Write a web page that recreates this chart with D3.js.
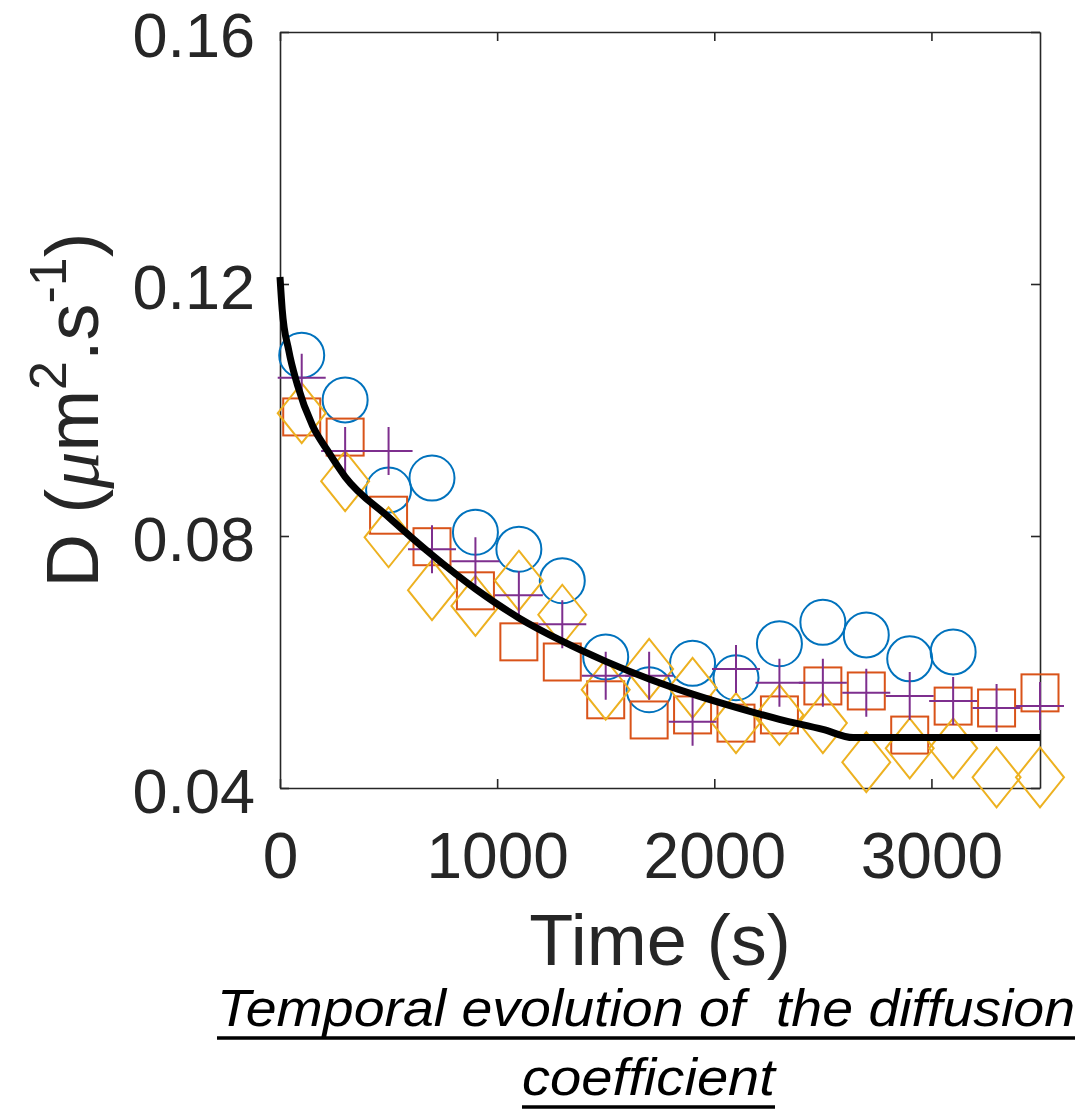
<!DOCTYPE html>
<html>
<head>
<meta charset="utf-8">
<script src="https://cdn.jsdelivr.net/npm/d3@7"></script>
<style>
  body { margin: 0; background: #fff; }
  svg { display: block; }
</style>
</head>
<body>
<div id="chart"></div>
<script>
// sampling times (s)
const times = [100, 300, 500, 700, 900, 1100, 1300, 1500, 1700, 1900, 2100, 2300, 2500, 2700, 2900, 3100, 3300, 3500];

// measured D values, one array per marker series (null = no point)
const circleVals = [0.1087, 0.1016, 0.0873, 0.0892, 0.0806, 0.0779, 0.0729, 0.0608, 0.0556, 0.0598, 0.0575, 0.0629, 0.0663, 0.0643, 0.0605, 0.0616, null, null];
const squareVals = [0.0989, 0.0957, 0.0833, 0.0783, 0.0713, 0.0632, 0.0600, 0.0540, 0.0508, 0.0516, 0.0503, 0.0516, 0.0562, 0.0554, 0.0484, 0.0530, 0.0527, 0.0551];
const diamondVals = [0.0995, 0.0887, 0.0798, 0.0714, 0.0689, 0.0729, 0.0675, 0.0556, 0.0589, 0.0559, 0.0503, 0.0516, 0.0503, 0.0441, 0.0463, 0.0463, 0.0417, 0.0417];
const plusVals = [0.1051, 0.0935, 0.0935, 0.0779, 0.0760, 0.0706, 0.0660, 0.0578, 0.0578, 0.0505, 0.0589, 0.0567, 0.0567, 0.0551, 0.0546, 0.0538, 0.0527, 0.0530];

// fitted curve
const fitT = [0, 10, 40, 80, 150, 220, 300, 500, 700, 900, 1100, 1300, 1500, 1700, 1900, 2100, 2300, 2500, 2640, 3500];
const fitD = [0.1211, 0.1160, 0.1095, 0.1040, 0.0975, 0.0935, 0.0894, 0.0830, 0.0770, 0.0716, 0.0670, 0.0633, 0.0601, 0.0573, 0.0549, 0.0528, 0.0509, 0.0493, 0.0480, 0.0480];

const xTicks = [0, 1000, 2000, 3000];
const yTicks = [0.04, 0.08, 0.12, 0.16];

const W = 1081, H = 1111;
const margin = { left: 280, right: 41, top: 32, bottom: 323 };
const AXIS_COLOR = '#262626';
const FONT = 'Liberation Sans, Arial, sans-serif';

const svg = d3.select('#chart').append('svg')
    .attr('width', W)
    .attr('height', H)
    .style('background', '#fff');

const x = d3.scaleLinear().domain([0, 3500]).range([margin.left, W - margin.right]);
const y = d3.scaleLinear().domain([0.04, 0.16]).range([H - margin.bottom, margin.top]);

// box + inward ticks (matlab style)
const TICK = 9;
svg.append('g')
    .attr('transform', `translate(0,${y(0.04)})`)
    .call(d3.axisBottom(x).tickValues(xTicks).tickSizeInner(-TICK).tickSizeOuter(0).tickFormat(d3.format('d')))
    .call(g => g.selectAll('text').attr('font-size', 64).attr('y', 90).attr('dy', 0));
svg.append('g')
    .attr('transform', `translate(0,${y(0.16)})`)
    .call(d3.axisTop(x).tickValues(xTicks).tickSizeInner(-TICK).tickSizeOuter(0).tickFormat(''));
svg.append('g')
    .attr('transform', `translate(${x(0)},0)`)
    .call(d3.axisLeft(y).tickValues(yTicks).tickSizeInner(-TICK).tickSizeOuter(0).tickPadding(25).tickFormat(d3.format('.2f')))
    .call(g => g.selectAll('text').attr('font-size', 63).attr('dy', 24));
svg.append('g')
    .attr('transform', `translate(${x(3500)},0)`)
    .call(d3.axisRight(y).tickValues(yTicks).tickSizeInner(-TICK).tickSizeOuter(0).tickFormat(''));

svg.selectAll('.domain, .tick line').attr('stroke', AXIS_COLOR).attr('stroke-width', 1.6);
svg.selectAll('.tick text')
    .attr('fill', AXIS_COLOR)
    .attr('font-family', FONT);

// markers
const plot = svg.append('g').attr('fill', 'none').attr('stroke-width', 2);

const pts = vals => times.map((t, i) => ({ t, v: vals[i] })).filter(d => d.v != null);

plot.append('g').attr('stroke', '#0072BD')
    .selectAll('circle').data(pts(circleVals)).join('circle')
    .attr('cx', d => x(d.t)).attr('cy', d => y(d.v)).attr('r', 22.5);

plot.append('g').attr('stroke', '#D95319')
    .selectAll('rect').data(pts(squareVals)).join('rect')
    .attr('x', d => x(d.t) - 18.5).attr('y', d => y(d.v) - 18.5)
    .attr('width', 37).attr('height', 37);

plot.append('g').attr('stroke', '#EDB120')
    .selectAll('path').data(pts(diamondVals)).join('path')
    .attr('d', d => {
        const cx = x(d.t), cy = y(d.v);
        return `M${cx},${cy - 30}L${cx + 24},${cy}L${cx},${cy + 30}L${cx - 24},${cy}Z`;
    });

plot.append('g').attr('stroke', '#7E2F8E')
    .selectAll('path').data(pts(plusVals)).join('path')
    .attr('d', d => {
        const cx = x(d.t), cy = y(d.v);
        return `M${cx - 24},${cy}H${cx + 24}M${cx},${cy - 24}V${cy + 24}`;
    });

// fit line
const line = d3.line()
    .x((d, i) => x(fitT[i]))
    .y(d => y(d))
    .curve(d3.curveMonotoneX);
svg.append('path')
    .datum(fitD)
    .attr('d', line)
    .attr('fill', 'none')
    .attr('stroke', '#000')
    .attr('stroke-width', 7);

// axis labels
svg.append('text')
    .attr('x', (x(0) + x(3500)) / 2)
    .attr('y', 965)
    .attr('text-anchor', 'middle')
    .attr('font-family', FONT)
    .attr('font-size', 72)
    .attr('fill', AXIS_COLOR)
    .text('Time (s)');

const yl = svg.append('text')
    .attr('transform', `translate(98,${(y(0.04) + y(0.16)) / 2}) rotate(-90)`)
    .attr('text-anchor', 'middle')
    .attr('font-family', FONT)
    .attr('font-size', 74)
    .attr('fill', AXIS_COLOR);
yl.append('tspan').text('D (');
yl.append('tspan').attr('font-family', 'Liberation Serif, serif').attr('font-style', 'italic').text('μ');
yl.append('tspan').text('m');
yl.append('tspan').attr('font-size', 52).attr('dy', -32).text('2');
yl.append('tspan').attr('dy', 32).text('.s');
yl.append('tspan').attr('font-size', 52).attr('dy', -32).text('-1');
yl.append('tspan').attr('dy', 32).text(')');

// caption, underlined
const caption = [
    { text: 'Temporal evolution of  the diffusion', y: 1026, x0: 217, x1: 1075 },
    { text: 'coefficient', y: 1095, x0: 522, x1: 775 }
];
caption.forEach(c => {
    svg.append('text')
        .attr('x', c.x0)
        .attr('y', c.y)
        .attr('font-family', 'Liberation Sans Narrow, Liberation Sans, sans-serif')
        .attr('font-style', 'italic')
        .attr('font-size', 52)
        .attr('textLength', c.x1 - c.x0)
        .attr('lengthAdjust', 'spacingAndGlyphs')
        .attr('fill', '#000')
        .style('white-space', 'pre')
        .text(c.text);
    svg.append('line')
        .attr('x1', c.x0).attr('x2', c.x1)
        .attr('y1', c.y + 12).attr('y2', c.y + 12)
        .attr('stroke', '#000')
        .attr('stroke-width', 3.5);
});
</script>
</body>
</html>
